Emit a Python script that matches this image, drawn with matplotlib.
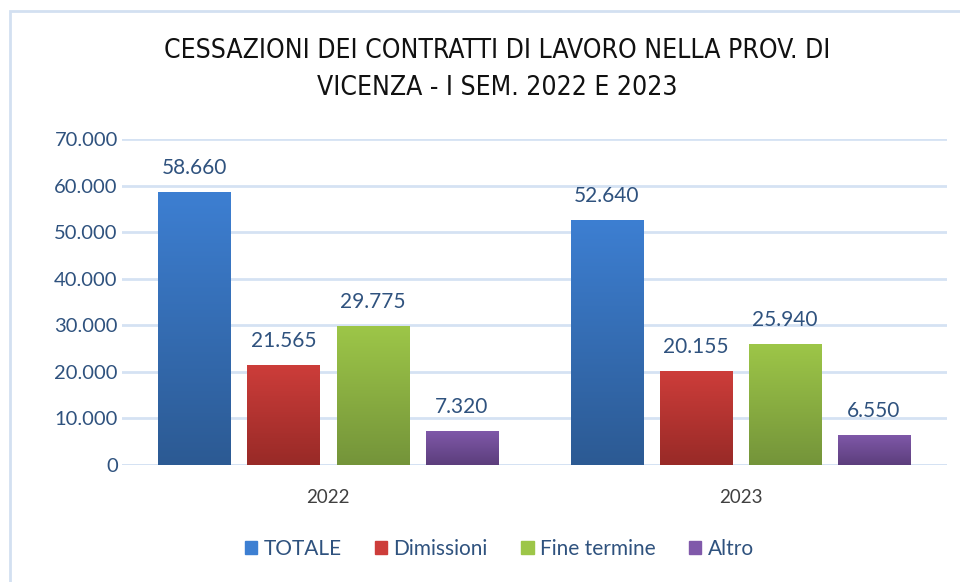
import matplotlib.pyplot as plt
import numpy as np
from matplotlib.patches import Rectangle
from matplotlib.colors import LinearSegmentedColormap
from matplotlib.ticker import FuncFormatter

years = ["2022", "2023"]
series = ["TOTALE", "Dimissioni", "Fine termine", "Altro"]
totale = [58660, 52640]
dimissioni = [21565, 20155]
fine_termine = [29775, 25940]
altro = [7320, 6550]

TOP_COLORS = ["#3d7fd2", "#cd3d3a", "#9dc648", "#8059aa"]
BOTTOM_COLORS = ["#2c5a93", "#982a27", "#74943a", "#5c3e7c"]
TEXT_BLUE = "#2f527e"
GRID = "#d5e2f3"
NUM_FONT = ["Lato", "DejaVu Sans"]


def it_thousands(v, _=None):
    return f"{int(round(v)):,}".replace(",", ".")


fig = plt.figure(figsize=(9.6, 5.82), dpi=100)
ax = fig.add_axes([0.127, 0.201, 0.859, 0.560])

values = [totale, dimissioni, fine_termine, altro]
x = np.arange(len(years))
width = 0.175
step = 0.216

for i, (name, vals) in enumerate(zip(series, values)):
    offs = (i - 1.5) * step
    bars = ax.bar(x + offs, vals, width, color=TOP_COLORS[i], label=name, zorder=3)
    cmap = LinearSegmentedColormap.from_list(name, [BOTTOM_COLORS[i], TOP_COLORS[i]])
    for bar in bars:
        x0, w, h = bar.get_x(), bar.get_width(), bar.get_height()
        grad = np.linspace(0, 1, 256).reshape(-1, 1)
        im = ax.imshow(grad, cmap=cmap, origin="lower", aspect="auto",
                       extent=(x0, x0 + w, 0, h), zorder=4)
        im.set_clip_path(bar)
        ax.annotate(it_thousands(h), xy=(x0 + w / 2, h), xytext=(0, 10),
                    textcoords="offset points", ha="center", va="bottom",
                    fontsize=15, color=TEXT_BLUE, family=NUM_FONT, zorder=5)

ax.set_xlim(-0.5, 1.5)
ax.set_ylim(0, 70000)
ax.set_yticks(np.arange(0, 70001, 10000))
ax.yaxis.set_major_formatter(FuncFormatter(it_thousands))
ax.set_xticks(x)
ax.set_xticklabels(years)
ax.grid(axis="y", color=GRID, linewidth=2, zorder=0)
ax.axhline(0, color=GRID, linewidth=2, zorder=1)
for s in ax.spines.values():
    s.set_visible(False)
ax.tick_params(axis="both", length=0)
ax.tick_params(axis="y", pad=3, labelsize=14.5, labelcolor=TEXT_BLUE)
ax.tick_params(axis="x", pad=17, labelsize=13.5, labelcolor="#404040")
for lbl in ax.get_yticklabels() + ax.get_xticklabels():
    lbl.set_family(NUM_FONT)

fig.text(0.518, 0.881, "CESSAZIONI DEI CONTRATTI DI LAVORO NELLA PROV. DI\nVICENZA - I SEM. 2022 E 2023",
         ha="center", va="center", fontsize=19, family=["DejaVu Sans"], fontstretch="condensed",
         color="#111111", linespacing=1.55)

handles = [Rectangle((0, 0), 1, 1, color=c) for c in TOP_COLORS]
leg = fig.legend(handles, series, loc="center", bbox_to_anchor=(0.52, 0.057), ncol=4,
                 frameon=False, handlelength=0.6, handleheight=0.6, handletextpad=0.3,
                 columnspacing=1.6, prop={"family": NUM_FONT, "size": 15})
for t in leg.get_texts():
    t.set_color(TEXT_BLUE)

# chart border (top and left edges visible in the crop)
fig.add_artist(Rectangle((10 / 960, -0.05), 1.2, 1 - 11 / 582 + 0.05, transform=fig.transFigure,
                         fill=False, edgecolor="#d3e0f1", linewidth=2))

fig.savefig("out.png", dpi=100)
